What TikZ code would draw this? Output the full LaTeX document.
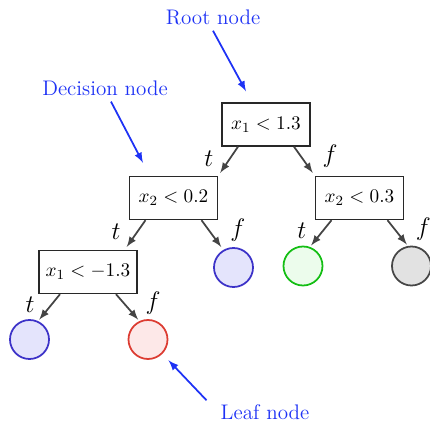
\documentclass[tikz,border=0pt]{standalone}
\definecolor{noteblue}{RGB}{30,50,245}
\definecolor{edgegray}{RGB}{68,68,68}
\definecolor{boxgray}{RGB}{40,40,40}
\definecolor{lblue}{RGB}{60,50,200}
\definecolor{lbluefill}{RGB}{228,228,252}
\definecolor{lred}{RGB}{220,60,50}
\definecolor{lredfill}{RGB}{253,232,232}
\definecolor{lgreen}{RGB}{20,190,20}
\definecolor{lgreenfill}{RGB}{236,252,236}
\definecolor{lgray}{RGB}{70,70,70}
\definecolor{lgrayfill}{RGB}{226,226,226}
\tikzset{
  test/.style={draw=boxgray,line width=0.8pt,rectangle,minimum width=1.76cm,minimum height=0.86cm,font=\fontsize{11}{13}\selectfont},
  leaf/.style={circle,line width=1pt,minimum size=0.78cm,inner sep=0pt},
  branch/.style={->,>=latex,line width=1pt,edgegray},
  pointer/.style={->,>=latex,line width=1pt,noteblue},
  note/.style={text=noteblue,font=\fontsize{12}{14}\selectfont},
  tlab/.style={pos=0.4,left=9pt,inner sep=0pt,text=black,font=\fontsize{14}{16}\selectfont},
  flab/.style={pos=0.4,right=11pt,yshift=1pt,inner sep=0pt,text=black,font=\fontsize{14}{16}\selectfont}
}
\begin{document}
\begin{tikzpicture}[x=0.02cm,y=-0.02cm]
\useasboundingbox (0,0) rectangle (430,422);
\node[test] (R) at (266,124.5) {$x_1 < 1.3$};
\node[test] (D1) at (173.5,198) {$x_2 < 0.2$};
\node[test] (D2) at (359.5,198) {$x_2 < 0.3$};
\node[test,minimum width=1.96cm] (D3) at (88,272) {$x_1 < -1.3$};
\node[leaf,draw=lblue,fill=lbluefill] (L1) at (29.5,339.5) {};
\node[leaf,draw=lred,fill=lredfill] (L2) at (148,339.5) {};
\node[leaf,draw=lblue,fill=lbluefill] (L3) at (233.5,267.5) {};
\node[leaf,draw=lgreen,fill=lgreenfill] (L4) at (303,266) {};
\node[leaf,draw=lgray,fill=lgrayfill] (L5) at (411.5,266) {};
\draw[branch,shorten >=2pt] ([xshift=-0.56cm]R.south) -- node[tlab]{$t$} (D1.north east);
\draw[branch,shorten >=2pt] ([xshift=0.56cm]R.south) -- node[flab]{$f$} (D2.north west);
\draw[branch,shorten >=2pt] ([xshift=-0.56cm]D1.south) -- node[tlab]{$t$} ([xshift=-0.26cm]D3.north east);
\draw[branch,shorten >=2pt] ([xshift=0.56cm]D1.south) -- node[flab]{$f$} (L3.120);
\draw[branch,shorten >=1pt] ([xshift=-0.56cm]D2.south) -- node[tlab]{$t$} (L4.70);
\draw[branch,shorten >=1pt] ([xshift=0.56cm]D2.south) -- node[flab]{$f$} (L5.100);
\draw[branch,shorten >=1pt] ([xshift=-0.56cm]D3.south) -- node[tlab]{$t$} (L1.65);
\draw[branch,shorten >=1pt] ([xshift=0.56cm]D3.south) -- node[flab]{$f$} (L2.115);
\node[note] (rootlab) at (213,17) {Root node};
\node[note] (declab) at (105,88) {Decision node};
\node[note] (leaflab) at (265,412) {Leaf node};
\draw[pointer] (rootlab.south) -- ([xshift=-0.4cm,yshift=0.22cm]R.north);
\draw[pointer] ([xshift=0.12cm]declab.south) -- ([xshift=-0.61cm,yshift=0.26cm]D1.north);
\draw[pointer,shorten >=5pt] ([xshift=-0.16cm,yshift=-0.04cm]leaflab.north west) -- (L2.-45);
\end{tikzpicture}
\end{document}
